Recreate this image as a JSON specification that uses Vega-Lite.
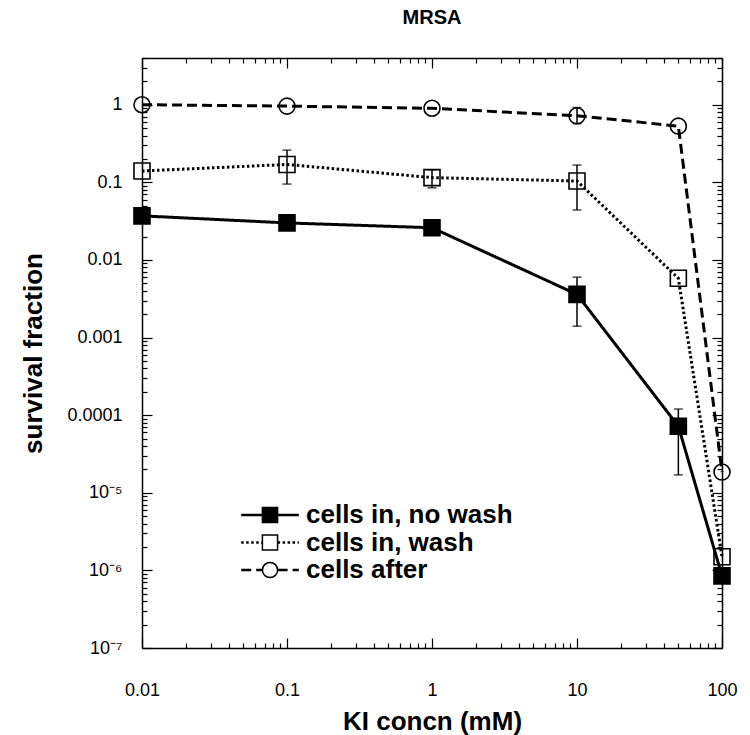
{
  "$schema": "https://vega.github.io/schema/vega-lite/v6.json",
  "width": 580,
  "height": 590,
  "autosize": "none",
  "padding": {"left": 142, "top": 58, "right": 28, "bottom": 87},
  "background": "white",
  "config": {"view": {"stroke": null}, "font": "Liberation Sans"},
  "title": {"text": "MRSA", "fontSize": 20, "fontWeight": "bold", "font": "Liberation Sans", "color": "black", "offset": 21, "anchor": "middle"},
  "datasets": {
    "pts": [
      {"series": "cells in, no wash", "x": 0.01, "y": 0.037},
      {"series": "cells in, no wash", "x": 0.1, "y": 0.030},
      {"series": "cells in, no wash", "x": 1, "y": 0.026},
      {"series": "cells in, no wash", "x": 10, "y": 0.0036},
      {"series": "cells in, no wash", "x": 50, "y": 0.000072},
      {"series": "cells in, no wash", "x": 100, "y": 0.00000085},
      {"series": "cells in, wash", "x": 0.01, "y": 0.14},
      {"series": "cells in, wash", "x": 0.1, "y": 0.17},
      {"series": "cells in, wash", "x": 1, "y": 0.115},
      {"series": "cells in, wash", "x": 10, "y": 0.104},
      {"series": "cells in, wash", "x": 50, "y": 0.0058},
      {"series": "cells in, wash", "x": 100, "y": 0.0000015},
      {"series": "cells after", "x": 0.01, "y": 1.0},
      {"series": "cells after", "x": 0.1, "y": 0.96},
      {"series": "cells after", "x": 1, "y": 0.9},
      {"series": "cells after", "x": 10, "y": 0.72},
      {"series": "cells after", "x": 50, "y": 0.53},
      {"series": "cells after", "x": 100, "y": 0.0000185}
    ],
    "err": [
      {"series": "cells in, no wash", "x": 10, "lo": 0.0014, "hi": 0.006},
      {"series": "cells in, no wash", "x": 50, "lo": 0.000017, "hi": 0.00012},
      {"series": "cells in, wash", "x": 0.1, "lo": 0.095, "hi": 0.26},
      {"series": "cells in, wash", "x": 1, "lo": 0.085, "hi": 0.145},
      {"series": "cells in, wash", "x": 10, "lo": 0.044, "hi": 0.167},
      {"series": "cells after", "x": 10, "lo": 0.57, "hi": 0.92}
    ]
  },
  "layer": [
    {
      "data": {"name": "pts"},
      "mark": {"type": "line", "strokeWidth": 3, "color": "black", "clip": false},
      "encoding": {
        "x": {
          "field": "x", "type": "quantitative",
          "scale": {"type": "log", "domain": [0.01, 100], "nice": false},
          "axis": {
            "orient": "bottom",
            "values": [0.01,0.02,0.03,0.04,0.05,0.06,0.07,0.08,0.09,0.1,0.2,0.3,0.4,0.5,0.6,0.7,0.8,0.9,1,2,3,4,5,6,7,8,9,10,20,30,40,50,60,70,80,90,100],
            "tickSize": {"condition": {"test": "abs(log(datum.value)/LN10 - round(log(datum.value)/LN10)) < 0.01", "value": -10}, "value": -5},
            "labelExpr": "abs(log(datum.value)/LN10 - round(log(datum.value)/LN10)) < 0.01 ? format(datum.value, '~g') : ''",
            "labelFont": "Liberation Sans", "labelFontSize": 18, "labelColor": "black",
            "labelPadding": 43, "labelFlush": false, "labelOverlap": false, "labelBound": false,
            "title": "KI concn (mM)", "titleFont": "Liberation Sans", "titleFontSize": 26, "titleFontWeight": "bold", "titleColor": "black", "titlePadding": 4,
            "domainColor": "black", "domainWidth": 1.5, "tickColor": "black", "tickWidth": 1.2, "grid": false
          }
        },
        "y": {
          "field": "y", "type": "quantitative",
          "scale": {"type": "log", "domain": [1e-7, 4], "nice": false},
          "axis": {
            "orient": "left",
            "values": [1e-7,2e-7,3e-7,4e-7,5e-7,6e-7,7e-7,8e-7,9e-7,1e-6,2e-6,3e-6,4e-6,5e-6,6e-6,7e-6,8e-6,9e-6,1e-5,2e-5,3e-5,4e-5,5e-5,6e-5,7e-5,8e-5,9e-5,0.0001,0.0002,0.0003,0.0004,0.0005,0.0006,0.0007,0.0008,0.0009,0.001,0.002,0.003,0.004,0.005,0.006,0.007,0.008,0.009,0.01,0.02,0.03,0.04,0.05,0.06,0.07,0.08,0.09,0.1,0.2,0.3,0.4,0.5,0.6,0.7,0.8,0.9,1,2,3,4],
            "tickSize": {"condition": {"test": "abs(log(datum.value)/LN10 - round(log(datum.value)/LN10)) < 0.01", "value": -10}, "value": -5},
            "labelExpr": "abs(log(datum.value)/LN10 - round(log(datum.value)/LN10)) > 0.01 ? '' : round(log(datum.value)/LN10) == 0 ? '1' : round(log(datum.value)/LN10) == -1 ? '0.1' : round(log(datum.value)/LN10) == -2 ? '0.01' : round(log(datum.value)/LN10) == -3 ? '0.001' : round(log(datum.value)/LN10) == -4 ? '0.0001' : round(log(datum.value)/LN10) == -5 ? '10⁻⁵' : round(log(datum.value)/LN10) == -6 ? '10⁻⁶' : '10⁻⁷'",
            "labelFont": "Liberation Sans", "labelFontSize": 18, "labelColor": "black",
            "labelPadding": 30, "labelFlush": false, "labelOverlap": false, "labelBound": false,
            "title": "survival fraction", "titleFont": "Liberation Sans", "titleFontSize": 26, "titleFontWeight": "bold", "titleColor": "black", "titlePadding": 20,
            "domainColor": "black", "domainWidth": 1.5, "tickColor": "black", "tickWidth": 1.2, "grid": false
          }
        },
        "strokeDash": {
          "field": "series", "type": "nominal",
          "scale": {"domain": ["cells after", "cells in, no wash", "cells in, wash"], "range": [[10, 5], [1, 0], [2.5, 2.5]]},
          "legend": {
            "orient": "none", "legendX": 115, "legendY": 444, "title": null,
            "values": ["cells in, no wash", "cells in, wash", "cells after"],
            "symbolType": "M-3.6,0H-0.95M0.95,0H3.6",
            "symbolSize": 256, "symbolStrokeWidth": 2.5, "symbolStrokeColor": "black", "symbolFillColor": "transparent",
            "labelFont": "Liberation Sans", "labelFontSize": 26, "labelFontWeight": "bold", "labelColor": "black", "labelLimit": 600,
            "labelOffset": 23, "rowPadding": 1.5
          }
        }
      }
    },
    {
      "data": {"name": "err"},
      "mark": {"type": "errorbar", "ticks": {"size": 9, "thickness": 1.5, "color": "black"}, "thickness": 1.5, "color": "black"},
      "encoding": {
        "x": {"field": "x", "type": "quantitative", "axis": null},
        "y": {"field": "lo", "type": "quantitative", "axis": null},
        "y2": {"field": "hi"}
      }
    },
    {
      "data": {"name": "pts"},
      "mark": {"type": "point", "size": 256, "strokeWidth": 1.6, "stroke": "black", "opacity": 1, "clip": false},
      "encoding": {
        "x": {
          "field": "x", "type": "quantitative",
          "axis": {
            "orient": "top", "labels": false, "title": null,
            "values": [0.01,0.02,0.03,0.04,0.05,0.06,0.07,0.08,0.09,0.1,0.2,0.3,0.4,0.5,0.6,0.7,0.8,0.9,1,2,3,4,5,6,7,8,9,10,20,30,40,50,60,70,80,90,100],
            "tickSize": {"condition": {"test": "abs(log(datum.value)/LN10 - round(log(datum.value)/LN10)) < 0.01", "value": -10}, "value": -5},
            "domainColor": "black", "domainWidth": 1.5, "tickColor": "black", "tickWidth": 1.2, "grid": false
          }
        },
        "y": {
          "field": "y", "type": "quantitative",
          "axis": {
            "orient": "right", "labels": false, "title": null,
            "values": [1e-7,2e-7,3e-7,4e-7,5e-7,6e-7,7e-7,8e-7,9e-7,1e-6,2e-6,3e-6,4e-6,5e-6,6e-6,7e-6,8e-6,9e-6,1e-5,2e-5,3e-5,4e-5,5e-5,6e-5,7e-5,8e-5,9e-5,0.0001,0.0002,0.0003,0.0004,0.0005,0.0006,0.0007,0.0008,0.0009,0.001,0.002,0.003,0.004,0.005,0.006,0.007,0.008,0.009,0.01,0.02,0.03,0.04,0.05,0.06,0.07,0.08,0.09,0.1,0.2,0.3,0.4,0.5,0.6,0.7,0.8,0.9,1,2,3,4],
            "tickSize": {"condition": {"test": "abs(log(datum.value)/LN10 - round(log(datum.value)/LN10)) < 0.01", "value": -10}, "value": -5},
            "domainColor": "black", "domainWidth": 1.5, "tickColor": "black", "tickWidth": 1.2, "grid": false
          }
        },
        "shape": {
          "field": "series", "type": "nominal",
          "scale": {"domain": ["cells in, no wash", "cells in, wash", "cells after"], "range": ["square", "square", "circle"]},
          "legend": {
            "orient": "none", "legendX": 115, "legendY": 444, "title": null,
            "symbolSize": 230,
            "labelFont": "Liberation Sans", "labelFontSize": 26, "labelFontWeight": "bold", "labelColor": "white", "labelOpacity": 0, "labelLimit": 600,
            "labelOffset": 23, "rowPadding": 1.5
          }
        },
        "fill": {
          "field": "series", "type": "nominal",
          "scale": {"domain": ["cells in, no wash", "cells in, wash", "cells after"], "range": ["black", "transparent", "transparent"]},
          "legend": null
        }
      }
    }
  ],
  "resolve": {"axis": {"x": "independent", "y": "independent"}}
}
